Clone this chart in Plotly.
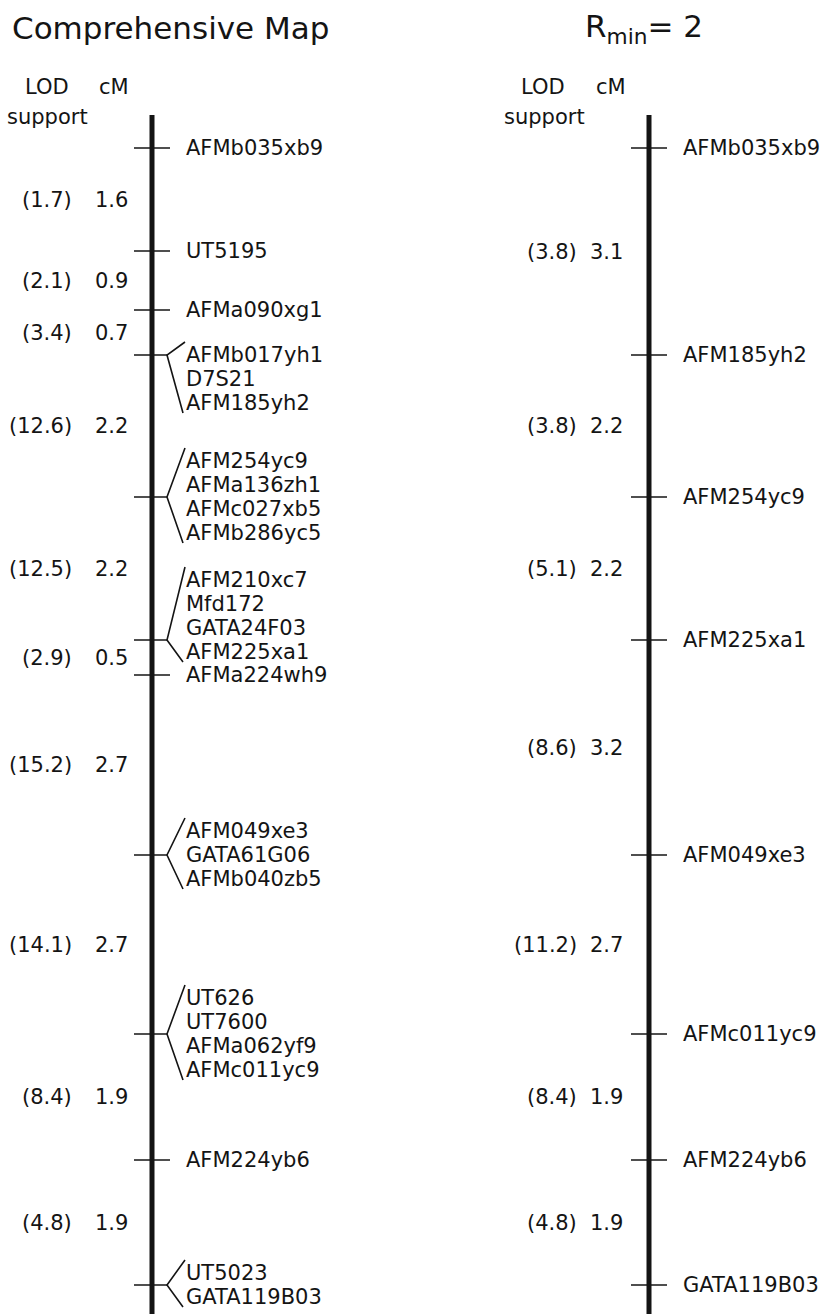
import plotly.graph_objects as go

W, H = 827, 1314

# ---------------- data ----------------
# Comprehensive map: locus positions along the drawn chromosome (drawing units, top = 0)
left_pos = [148, 251, 310, 355, 497, 640, 675, 855, 1034, 1160, 1285]
left_markers = [
    ["AFMb035xb9"],
    ["UT5195"],
    ["AFMa090xg1"],
    ["AFMb017yh1", "D7S21", "AFM185yh2"],
    ["AFM254yc9", "AFMa136zh1", "AFMc027xb5", "AFMb286yc5"],
    ["AFM210xc7", "Mfd172", "GATA24F03", "AFM225xa1"],
    ["AFMa224wh9"],
    ["AFM049xe3", "GATA61G06", "AFMb040zb5"],
    ["UT626", "UT7600", "AFMa062yf9", "AFMc011yc9"],
    ["AFM224yb6"],
    ["UT5023", "GATA119B03"],
]
# which label row of a cluster sits level with its tick
left_anchor = [0, 0, 0, 0, 1.5, 2.5, 0, 1, 1.5, 0, 0.5]
left_lod = ["(1.7)", "(2.1)", "(3.4)", "(12.6)", "(12.5)", "(2.9)", "(15.2)", "(14.1)", "(8.4)", "(4.8)"]
left_cm = ["1.6", "0.9", "0.7", "2.2", "2.2", "0.5", "2.7", "2.7", "1.9", "1.9"]

# R_min = 2 map
right_pos = [148, 355, 497, 640, 855, 1034, 1160, 1285]
right_markers = [["AFMb035xb9"], ["AFM185yh2"], ["AFM254yc9"], ["AFM225xa1"],
                 ["AFM049xe3"], ["AFMc011yc9"], ["AFM224yb6"], ["GATA119B03"]]
right_anchor = [0, 0, 0, 0, 0, 0, 0, 0]
right_lod = ["(3.8)", "(3.8)", "(5.1)", "(8.6)", "(11.2)", "(8.4)", "(4.8)"]
right_cm = ["3.1", "2.2", "2.2", "3.2", "2.7", "1.9", "1.9"]

titles = ["Comprehensive Map", "R<sub>min</sub>= 2"]

# ---------------- styling ----------------
FONT = "DejaVu Sans"
INK = "#141414"
FS = 21
TITLE_FS = 31
ROW = 24
CHROM_TOP = 115

fig = go.Figure()
annotations = []


def txt(x, y, s, anchor="left", size=FS):
    annotations.append(dict(x=x, y=y, xref="x", yref="y", text=s, showarrow=False,
                            xanchor=anchor, yanchor="middle",
                            font=dict(family=FONT, size=size, color=INK)))


def add_map(cx, pos, groups, anchors, lod, cm, lod_right, cm_right):
    # chromosome bar
    fig.add_trace(go.Scatter(x=[cx, cx], y=[CHROM_TOP, H + 20], mode="lines",
                             line=dict(color=INK, width=5), hoverinfo="skip", showlegend=False))
    lx, ly = [], []
    for p, g, a in zip(pos, groups, anchors):
        if len(g) == 1:
            lx += [cx - 18, cx + 18, None]
            ly += [p, p, None]
            txt(cx + 32, p, g[0])
        else:
            apex = cx + 15
            rows = [p + (i - a) * ROW for i in range(len(g))]
            lx += [cx - 18, apex, None, cx + 33, apex, cx + 31, None]
            ly += [p, p, None, rows[0] - 13, p, rows[-1] + 10, None]
            for r, name in zip(rows, g):
                txt(cx + 32, r, name)
    fig.add_trace(go.Scatter(x=lx, y=ly, mode="lines", line=dict(color=INK, width=1.6),
                             hoverinfo="skip", showlegend=False))
    # interval labels at midpoints between loci
    for i in range(len(pos) - 1):
        mid = (pos[i] + pos[i + 1]) / 2
        txt(lod_right, mid, lod[i], anchor="right")
        txt(cm_right, mid, cm[i], anchor="right")


add_map(152, left_pos, left_markers, left_anchor, left_lod, left_cm, 74, 130)
add_map(649, right_pos, right_markers, right_anchor, right_lod, right_cm, 579, 625)

# headers
txt(47, 87, "LOD", anchor="center")
txt(114, 87, "cM", anchor="center")
txt(47, 117, "support", anchor="center")
txt(543, 87, "LOD", anchor="center")
txt(611, 87, "cM", anchor="center")
txt(544, 117, "support", anchor="center")

# titles
txt(10, 28, titles[0], size=TITLE_FS)
txt(583, 28, titles[1], size=TITLE_FS)

fig.update_layout(
    width=W, height=H,
    margin=dict(l=0, r=0, t=0, b=0),
    paper_bgcolor="white", plot_bgcolor="white",
    xaxis=dict(range=[0, W], visible=False, fixedrange=True),
    yaxis=dict(range=[H, 0], visible=False, fixedrange=True),
    annotations=annotations,
    showlegend=False,
)

fig.write_html(
    "out.html",
    config={"displayModeBar": False, "staticPlot": True},
    post_script="document.body.style.margin='0';document.body.style.padding='0';"
                "document.body.style.overflow='hidden';",
)
